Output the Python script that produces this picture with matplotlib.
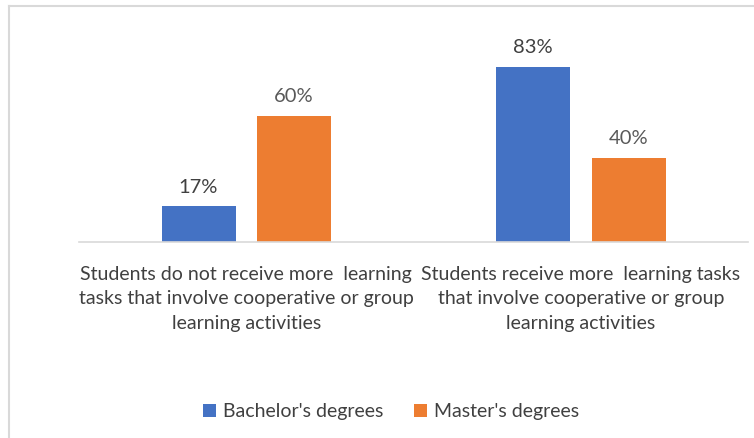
import matplotlib
matplotlib.use("Agg")
import matplotlib.pyplot as plt
from matplotlib.lines import Line2D
from matplotlib.patches import Patch

categories = [
    "Students do not receive more  learning\ntasks that involve cooperative or group\nlearning activities",
    "Students receive more  learning tasks\nthat involve cooperative or group\nlearning activities",
]
series_names = ["Bachelor's degrees", "Master's degrees"]
bachelor = [17, 83]
master = [60, 40]
colors = ["#4472C4", "#ED7D31"]
label_colors = ["#404040", "#595959"]

W, H = 754, 438
fig = plt.figure(figsize=(W / 100, H / 100), dpi=100)
font = ["Lato", "DejaVu Sans"]
plt.rcParams["font.family"] = font

left, right = 79, 748
base_y, top_y = 242, 40
ax = fig.add_axes([left / W, 1 - base_y / H, (right - left) / W, (base_y - top_y) / H])

px_per_unit = 334.5
bw = 74 / px_per_unit
off = 47.75 / px_per_unit
xs = list(range(len(categories)))
for i, (vals, c, lc) in enumerate(zip([bachelor, master], colors, label_colors)):
    pos = [x + (i * 2 - 1) * off for x in xs]
    bars = ax.bar(pos, vals, width=bw, color=c, zorder=2)
    for b, v in zip(bars, vals):
        ax.text(b.get_x() + b.get_width() / 2, v + 5, f"{v}%", ha="center", va="bottom",
                fontsize=14.5, color=lc)

ax.set_xlim(-0.5, 1.5)
ax.set_ylim(0, (base_y - top_y) / 2.108)
for s in ["top", "right", "left"]:
    ax.spines[s].set_visible(False)
ax.spines["bottom"].set_color("#D9D9D9")
ax.spines["bottom"].set_linewidth(1.2)
ax.set_yticks([])
ax.set_xticks(xs)
ax.set_xticklabels(categories, fontsize=14, color="#404040", linespacing=1.55)
ax.tick_params(axis="x", length=0, pad=17)

handles = [Patch(facecolor=c, label=n) for c, n in zip(colors, series_names)]
fig.legend(handles=handles, loc="center", bbox_to_anchor=(391 / W, 1 - 412 / H), ncol=2,
           frameon=False, fontsize=14, handlelength=0.65, handleheight=0.65,
           handletextpad=0.35, columnspacing=1.6, labelcolor="#404040")

# chart border
fig.add_artist(Line2D([9 / W, 9 / W], [0, 1 - 6 / H], transform=fig.transFigure,
                      color="#D9D9D9", lw=1.5))
fig.add_artist(Line2D([9 / W, 1], [1 - 6 / H, 1 - 6 / H], transform=fig.transFigure,
                      color="#D9D9D9", lw=1.5))

fig.savefig("out.png", dpi=100)
